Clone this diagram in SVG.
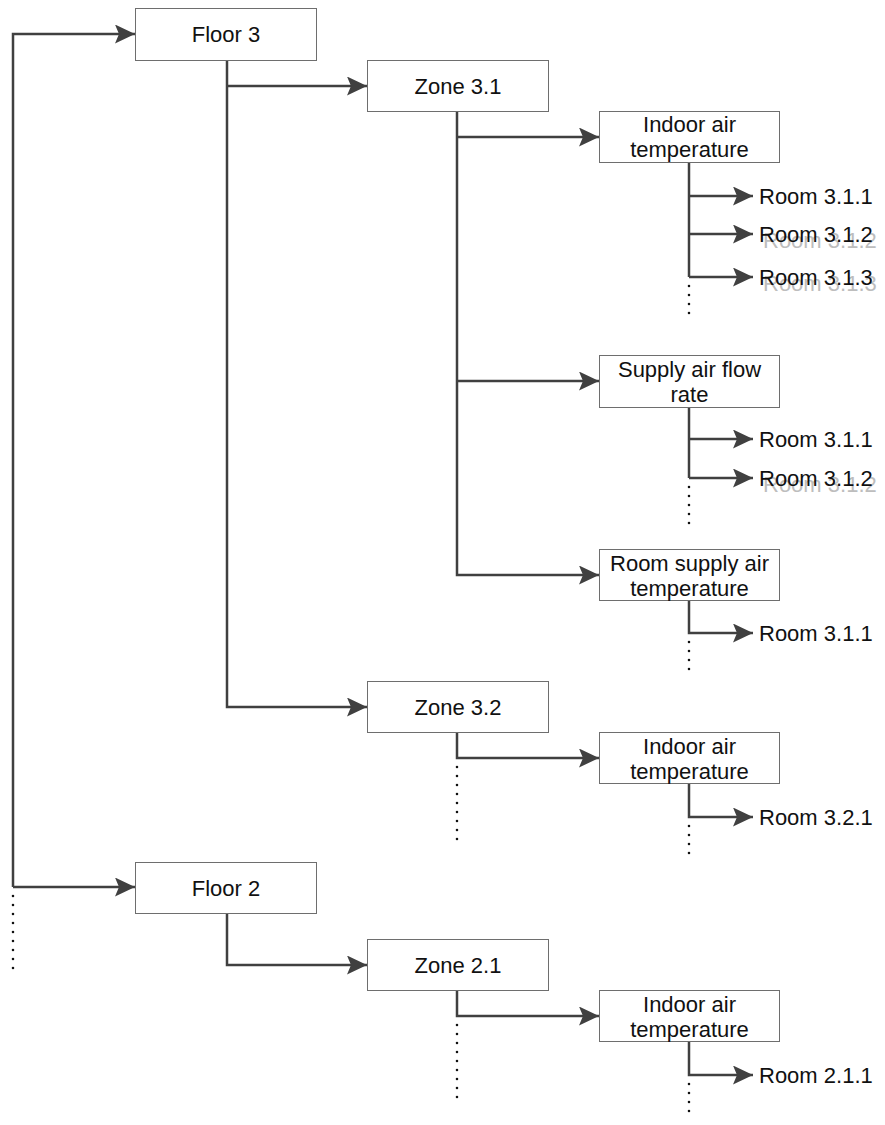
<svg xmlns="http://www.w3.org/2000/svg" width="885" height="1125" viewBox="0 0 885 1125">
  <style>
    .box { fill: #ffffff; stroke: #6e6e6e; stroke-width: 1; }
    .lbl { font-family: "Liberation Sans", Arial, sans-serif; font-size: 22px; fill: #111111; }
    .mid { text-anchor: middle; }
    .ghost { font-family: "Liberation Sans", Arial, sans-serif; font-size: 22px; fill: #bdbdbd; }
    .link { fill: none; stroke: #404040; stroke-width: 2.5; }
    .arr { marker-end: url(#head); }
    .dots { fill: none; stroke: #111111; stroke-width: 2.6; stroke-linecap: round; stroke-dasharray: 0 9; }
  </style>
  <defs>
    <marker id="head" viewBox="0 0 20 19" refX="20" refY="9.5" markerWidth="20" markerHeight="19" markerUnits="userSpaceOnUse" orient="auto">
      <path d="M0,0 L20,9.5 L0,19 L4,9.5 Z" fill="#404040"/>
    </marker>
  </defs>

  <g id="connectors">
    <!-- building trunk -->
    <path class="link arr" d="M13,887 L13,34 L135,34"/>
    <path class="link arr" d="M13,887 L135,887"/>
    <path class="dots" d="M13,896 L13,976"/>
    <!-- floor 3 -->
    <path class="link arr" d="M227,60 L227,707 L367,707"/>
    <path class="link arr" d="M227,86 L367,86"/>
    <!-- zone 3.1 -->
    <path class="link arr" d="M457,111 L457,575 L599,575"/>
    <path class="link arr" d="M457,137 L599,137"/>
    <path class="link arr" d="M457,381 L599,381"/>
    <!-- zone 3.1 indoor air temperature -->
    <path class="link" d="M689,162 L689,277"/>
    <path class="link arr" d="M689,196 L753,196"/>
    <path class="link arr" d="M689,234 L753,234"/>
    <path class="link arr" d="M689,277 L753,277"/>
    <path class="dots" d="M689,286 L689,322"/>
    <!-- zone 3.1 supply air flow rate -->
    <path class="link" d="M689,407 L689,478"/>
    <path class="link arr" d="M689,439 L753,439"/>
    <path class="link arr" d="M689,478 L753,478"/>
    <path class="dots" d="M689,487 L689,530"/>
    <!-- zone 3.1 room supply air temperature -->
    <path class="link arr" d="M689,601 L689,633 L753,633"/>
    <path class="dots" d="M689,642 L689,678"/>
    <!-- zone 3.2 -->
    <path class="link arr" d="M457,733 L457,758 L599,758"/>
    <path class="dots" d="M457,767 L457,848"/>
    <path class="link arr" d="M689,784 L689,817 L753,817"/>
    <path class="dots" d="M689,826 L689,858"/>
    <!-- floor 2 -->
    <path class="link arr" d="M227,913 L227,965 L367,965"/>
    <!-- zone 2.1 -->
    <path class="link arr" d="M457,991 L457,1016 L599,1016"/>
    <path class="dots" d="M457,1025 L457,1106"/>
    <path class="link arr" d="M689,1042 L689,1075 L753,1075"/>
    <path class="dots" d="M689,1084 L689,1118"/>
  </g>

  <g id="floor3">
    <rect class="box" x="135.5" y="8.5" width="181" height="52"/>
    <text class="lbl mid" x="226" y="42">Floor 3</text>
  </g>
  <g id="zone31">
    <rect class="box" x="367.5" y="60.5" width="181" height="51"/>
    <text class="lbl mid" x="458" y="94">Zone 3.1</text>
  </g>
  <g id="z31-indoor">
    <rect class="box" x="599.5" y="111.5" width="180" height="51"/>
    <text class="lbl mid" x="689.5" y="132">Indoor air</text>
    <text class="lbl mid" x="689.5" y="157">temperature</text>
  </g>
  <g id="z31-indoor-r1">
    <text class="lbl" x="759" y="204">Room 3.1.1</text>
  </g>
  <g id="z31-indoor-r2">
    <!-- faint offset echo of the label -->
    <text class="ghost" x="763" y="248">Room 3.1.2</text>
    <text class="lbl" x="759" y="242">Room 3.1.2</text>
  </g>
  <g id="z31-indoor-r3">
    <text class="ghost" x="763" y="291">Room 3.1.3</text>
    <text class="lbl" x="759" y="285">Room 3.1.3</text>
  </g>
  <g id="z31-supply">
    <rect class="box" x="599.5" y="355.5" width="180" height="52"/>
    <text class="lbl mid" x="689.5" y="377">Supply air flow</text>
    <text class="lbl mid" x="689.5" y="402">rate</text>
  </g>
  <g id="z31-supply-r1">
    <text class="lbl" x="759" y="447">Room 3.1.1</text>
  </g>
  <g id="z31-supply-r2">
    <text class="ghost" x="763" y="492">Room 3.1.2</text>
    <text class="lbl" x="759" y="486">Room 3.1.2</text>
  </g>
  <g id="z31-roomsupply">
    <rect class="box" x="599.5" y="549.5" width="180" height="51"/>
    <text class="lbl mid" x="689.5" y="571">Room supply air</text>
    <text class="lbl mid" x="689.5" y="596">temperature</text>
  </g>
  <g id="z31-roomsupply-r1">
    <text class="lbl" x="759" y="641">Room 3.1.1</text>
  </g>
  <g id="zone32">
    <rect class="box" x="367.5" y="681.5" width="181" height="51"/>
    <text class="lbl mid" x="458" y="715">Zone 3.2</text>
  </g>
  <g id="z32-indoor">
    <rect class="box" x="599.5" y="732.5" width="180" height="51"/>
    <text class="lbl mid" x="689.5" y="754">Indoor air</text>
    <text class="lbl mid" x="689.5" y="779">temperature</text>
  </g>
  <g id="z32-indoor-r1">
    <text class="lbl" x="759" y="825">Room 3.2.1</text>
  </g>
  <g id="floor2">
    <rect class="box" x="135.5" y="862.5" width="181" height="51"/>
    <text class="lbl mid" x="226" y="896">Floor 2</text>
  </g>
  <g id="zone21">
    <rect class="box" x="367.5" y="939.5" width="181" height="51"/>
    <text class="lbl mid" x="458" y="973">Zone 2.1</text>
  </g>
  <g id="z21-indoor">
    <rect class="box" x="599.5" y="990.5" width="180" height="51"/>
    <text class="lbl mid" x="689.5" y="1012">Indoor air</text>
    <text class="lbl mid" x="689.5" y="1037">temperature</text>
  </g>
  <g id="z21-indoor-r1">
    <text class="lbl" x="759" y="1083">Room 2.1.1</text>
  </g>
</svg>
